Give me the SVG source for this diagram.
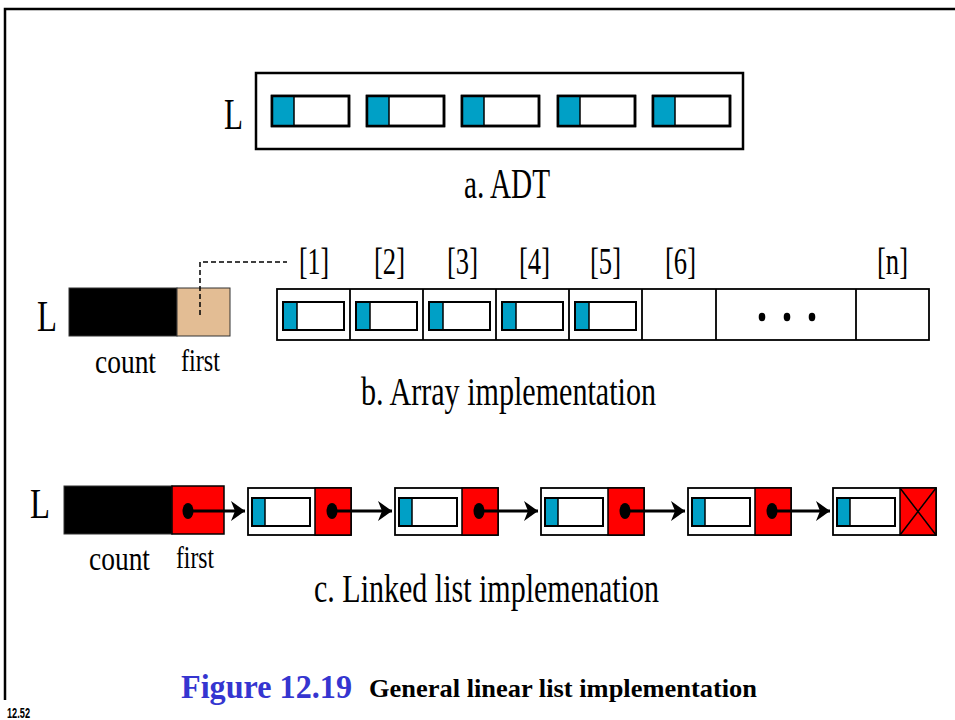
<svg xmlns="http://www.w3.org/2000/svg" width="955" height="720" viewBox="0 0 955 720">
<defs>
<style>
.t{font-family:"Liberation Serif","Times New Roman",serif;fill:#000}
.cell{fill:#fff;stroke:#000;stroke-width:2.5}
.cellb{fill:#fff;stroke:#000;stroke-width:2}
.blue{fill:#00A0C6;stroke:#000;stroke-width:1.5}
.box{fill:#fff;stroke:#000;stroke-width:1.8}
.red{fill:#FF0000;stroke:#000;stroke-width:1.5}
.blk{fill:#000;stroke:#333;stroke-width:1}
.lnk{stroke:#000;stroke-width:3;fill:none}
</style>
<marker id="ah" markerUnits="userSpaceOnUse" markerWidth="16" markerHeight="22" refX="14" refY="10" orient="auto">
<path d="M0,0 L14,10 L0,20 L4,10 Z" fill="#000"/>
</marker>
</defs>
<rect width="955" height="720" fill="#fff"/>
<g id="frame">
<path d="M5,700 V9 H955" fill="none" stroke="#000" stroke-width="2.5"/>
</g>

<!-- a. ADT -->
<g id="adt">
<text class="t" x="224" y="129" font-size="44" textLength="19" lengthAdjust="spacingAndGlyphs">L</text>
<rect x="256" y="73" width="487" height="76" fill="#fff" stroke="#000" stroke-width="2.5"/>
<g id="adt-e1"><rect class="cell" x="272" y="96" width="77" height="30"/><rect class="blue" x="272" y="96" width="22" height="30"/><rect x="272" y="96" width="77" height="30" fill="none" stroke="#000" stroke-width="2.5"/></g>
<g id="adt-e2"><rect class="cell" x="367" y="96" width="77" height="30"/><rect class="blue" x="367" y="96" width="22" height="30"/><rect x="367" y="96" width="77" height="30" fill="none" stroke="#000" stroke-width="2.5"/></g>
<g id="adt-e3"><rect class="cell" x="462" y="96" width="77" height="30"/><rect class="blue" x="462" y="96" width="22" height="30"/><rect x="462" y="96" width="77" height="30" fill="none" stroke="#000" stroke-width="2.5"/></g>
<g id="adt-e4"><rect class="cell" x="558" y="96" width="77" height="30"/><rect class="blue" x="558" y="96" width="22" height="30"/><rect x="558" y="96" width="77" height="30" fill="none" stroke="#000" stroke-width="2.5"/></g>
<g id="adt-e5"><rect class="cell" x="653" y="96" width="77" height="30"/><rect class="blue" x="653" y="96" width="22" height="30"/><rect x="653" y="96" width="77" height="30" fill="none" stroke="#000" stroke-width="2.5"/></g>
<text class="t" x="464" y="198" font-size="42" textLength="86" lengthAdjust="spacingAndGlyphs">a. ADT</text>
</g>

<!-- b. Array implementation -->
<g id="array-head">
<text class="t" x="37" y="331" font-size="44" textLength="20" lengthAdjust="spacingAndGlyphs">L</text>
<rect class="blk" x="69" y="288" width="108" height="48"/>
<rect x="177" y="288" width="53" height="48" fill="#E3BD94" stroke="#333" stroke-width="1"/>
<text class="t" x="95" y="373" font-size="34" textLength="61" lengthAdjust="spacingAndGlyphs">count</text>
<text class="t" x="181" y="371" font-size="32" textLength="39" lengthAdjust="spacingAndGlyphs">first</text>
</g>
<g id="array">
<rect x="277" y="289" width="652" height="51" fill="#fff" stroke="#000" stroke-width="1.8"/>
<path d="M350,289V340M423,289V340M496,289V340M569,289V340M642,289V340M716,289V340M856,289V340" stroke="#000" stroke-width="1.8"/>
<g id="arr-e1"><rect class="cellb" x="283" y="302" width="61" height="28"/><rect class="blue" x="283" y="302" width="14" height="28"/><rect x="283" y="302" width="61" height="28" fill="none" stroke="#000" stroke-width="2"/></g>
<g id="arr-e2"><rect class="cellb" x="356" y="302" width="61" height="28"/><rect class="blue" x="356" y="302" width="14" height="28"/><rect x="356" y="302" width="61" height="28" fill="none" stroke="#000" stroke-width="2"/></g>
<g id="arr-e3"><rect class="cellb" x="429" y="302" width="61" height="28"/><rect class="blue" x="429" y="302" width="14" height="28"/><rect x="429" y="302" width="61" height="28" fill="none" stroke="#000" stroke-width="2"/></g>
<g id="arr-e4"><rect class="cellb" x="502" y="302" width="61" height="28"/><rect class="blue" x="502" y="302" width="14" height="28"/><rect x="502" y="302" width="61" height="28" fill="none" stroke="#000" stroke-width="2"/></g>
<g id="arr-e5"><rect class="cellb" x="575" y="302" width="61" height="28"/><rect class="blue" x="575" y="302" width="14" height="28"/><rect x="575" y="302" width="61" height="28" fill="none" stroke="#000" stroke-width="2"/></g>
<ellipse cx="762" cy="317" rx="3.3" ry="4.2"/><ellipse cx="787" cy="317" rx="3.3" ry="4.2"/><ellipse cx="812" cy="317" rx="3.3" ry="4.2"/>
<text class="t" x="299" y="274" font-size="37" textLength="30" lengthAdjust="spacingAndGlyphs">[1]</text>
<text class="t" x="374" y="274" font-size="37" textLength="31" lengthAdjust="spacingAndGlyphs">[2]</text>
<text class="t" x="447" y="274" font-size="37" textLength="31" lengthAdjust="spacingAndGlyphs">[3]</text>
<text class="t" x="519" y="274" font-size="37" textLength="31" lengthAdjust="spacingAndGlyphs">[4]</text>
<text class="t" x="590" y="274" font-size="37" textLength="31" lengthAdjust="spacingAndGlyphs">[5]</text>
<text class="t" x="665" y="274" font-size="37" textLength="31" lengthAdjust="spacingAndGlyphs">[6]</text>
<text class="t" x="877" y="274" font-size="37" textLength="31" lengthAdjust="spacingAndGlyphs">[n]</text>
<text class="t" x="361" y="405" font-size="41" textLength="295" lengthAdjust="spacingAndGlyphs">b. Array implementation</text>
</g>
<g id="array-link">
<path d="M200,315 V262 H287" fill="none" stroke="#000" stroke-width="1.5" stroke-dasharray="5,3"/>
</g>

<!-- c. Linked list -->
<g id="ll-head">
<text class="t" x="30" y="518" font-size="42" textLength="20" lengthAdjust="spacingAndGlyphs">L</text>
<rect class="blk" x="64" y="486" width="108" height="48"/>
<rect class="red" x="172" y="486" width="52" height="48"/>
<text class="t" x="89" y="570" font-size="34" textLength="61" lengthAdjust="spacingAndGlyphs">count</text>
<text class="t" x="176" y="568" font-size="32" textLength="38" lengthAdjust="spacingAndGlyphs">first</text>
</g>
<g id="node1"><rect class="box" x="248" y="488" width="103" height="47"/><rect class="red" x="315" y="488" width="36" height="47"/><rect class="cellb" x="252" y="498" width="58" height="28"/><rect class="blue" x="252" y="498" width="13" height="28"/><rect x="252" y="498" width="58" height="28" fill="none" stroke="#000" stroke-width="2"/></g>
<g id="node2"><rect class="box" x="395" y="488" width="103" height="47"/><rect class="red" x="462" y="488" width="36" height="47"/><rect class="cellb" x="399" y="498" width="58" height="28"/><rect class="blue" x="399" y="498" width="13" height="28"/><rect x="399" y="498" width="58" height="28" fill="none" stroke="#000" stroke-width="2"/></g>
<g id="node3"><rect class="box" x="541" y="488" width="103" height="47"/><rect class="red" x="608" y="488" width="36" height="47"/><rect class="cellb" x="545" y="498" width="58" height="28"/><rect class="blue" x="545" y="498" width="13" height="28"/><rect x="545" y="498" width="58" height="28" fill="none" stroke="#000" stroke-width="2"/></g>
<g id="node4"><rect class="box" x="688" y="488" width="103" height="47"/><rect class="red" x="755" y="488" width="36" height="47"/><rect class="cellb" x="692" y="498" width="58" height="28"/><rect class="blue" x="692" y="498" width="13" height="28"/><rect x="692" y="498" width="58" height="28" fill="none" stroke="#000" stroke-width="2"/></g>
<g id="node5"><rect class="box" x="833" y="488" width="103" height="47"/><rect class="red" x="900" y="488" width="36" height="47"/><path d="M900,488 L936,535 M936,488 L900,535" stroke="#000" stroke-width="1.5"/><rect class="cellb" x="837" y="498" width="58" height="28"/><rect class="blue" x="837" y="498" width="13" height="28"/><rect x="837" y="498" width="58" height="28" fill="none" stroke="#000" stroke-width="2"/></g>
<g id="connectors">
<path class="lnk" d="M188,511 H245" marker-end="url(#ah)"/>
<path class="lnk" d="M332,511 H392" marker-end="url(#ah)"/>
<path class="lnk" d="M479,511 H538" marker-end="url(#ah)"/>
<path class="lnk" d="M625,511 H685" marker-end="url(#ah)"/>
<path class="lnk" d="M772,511 H830" marker-end="url(#ah)"/>
<ellipse cx="188" cy="511" rx="5.5" ry="8"/>
<ellipse cx="332" cy="511" rx="5.5" ry="8"/>
<ellipse cx="479" cy="511" rx="5.5" ry="8"/>
<ellipse cx="625" cy="511" rx="5.5" ry="8"/>
<ellipse cx="772" cy="511" rx="5.5" ry="8"/>
</g>
<text class="t" x="314" y="602" font-size="41" textLength="345" lengthAdjust="spacingAndGlyphs">c. Linked list implemenation</text>

<g id="caption">
<text x="181" y="698" font-family="'Liberation Serif','Times New Roman',serif" font-weight="bold" font-size="33" fill="#3535D0" textLength="171" lengthAdjust="spacingAndGlyphs">Figure 12.19</text>
<text x="369" y="697" font-family="'Liberation Serif','Times New Roman',serif" font-weight="bold" font-size="26" fill="#000" textLength="388" lengthAdjust="spacingAndGlyphs">General linear list implementation</text>
<text x="7" y="718" font-family="'Liberation Sans',Arial,sans-serif" font-weight="bold" font-size="15" fill="#000" textLength="23" lengthAdjust="spacingAndGlyphs">12.52</text>
</g>
</svg>
